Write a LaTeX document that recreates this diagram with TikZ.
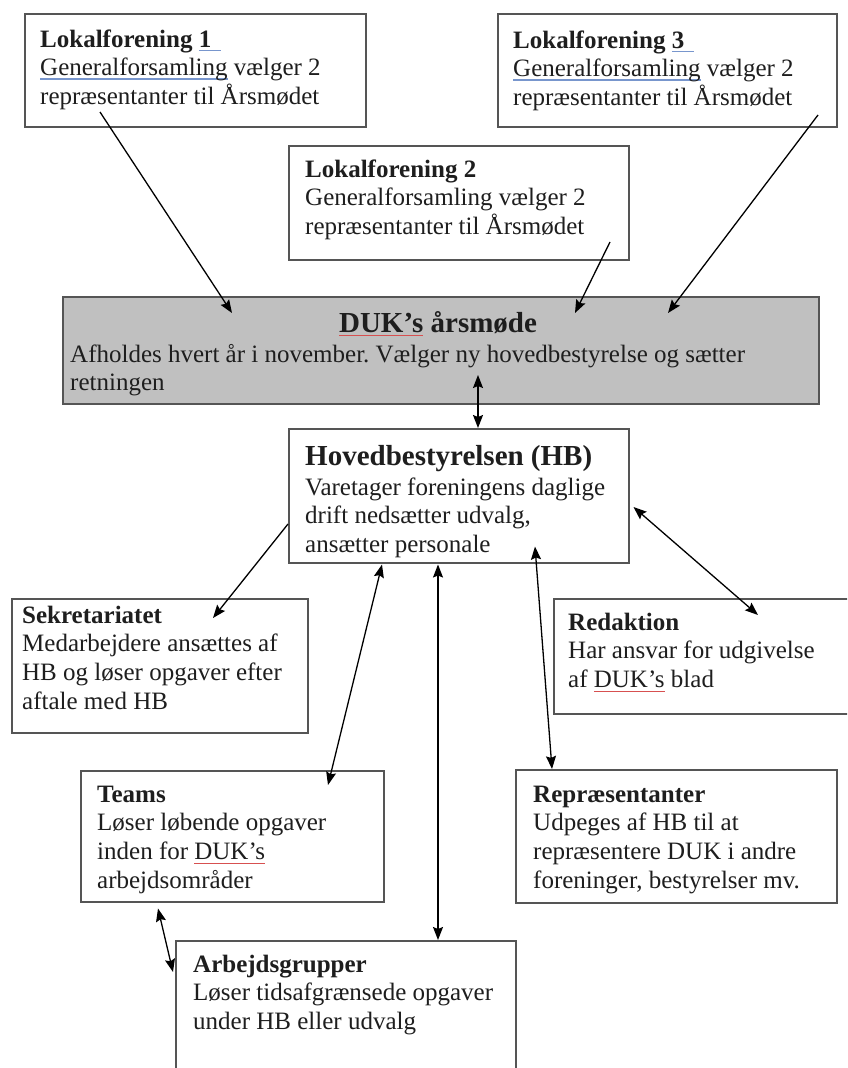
\documentclass[tikz,border=0pt]{standalone}
\usepackage{fontspec}
\setmainfont{Liberation Serif}
\usetikzlibrary{arrows.meta,calc}
\definecolor{boxline}{RGB}{85,85,85}
\definecolor{dukfill}{RGB}{192,192,192}
\definecolor{txtcol}{RGB}{30,30,30}
\definecolor{ulblue}{RGB}{120,150,205}
\definecolor{ulred}{RGB}{215,80,80}
\newsavebox\ulsave
\newcommand\blueul[1]{\sbox\ulsave{#1}\rlap{\textcolor{ulblue}{\rule[-4pt]{\wd\ulsave}{1.3pt}}}\usebox\ulsave}
\newcommand\redul[1]{\sbox\ulsave{#1}\rlap{\textcolor{ulred}{\rule[-4pt]{\wd\ulsave}{1pt}}}\usebox\ulsave}
\newcommand\txtstack[1]{\vtop{\baselineskip=28.75pt\lineskiplimit=-50pt #1}}
\frenchspacing
\tikzset{
  orgbox/.style={draw=boxline, line width=1.5pt, fill=white, rectangle, anchor=north west, inner sep=0pt},
  bodytext/.style={anchor=base west, inner sep=0pt, text=txtcol, font=\fontsize{25}{28.75}\selectfont},
  headtext/.style={inner sep=0pt, text=txtcol, font=\fontsize{29}{33}\selectfont\bfseries},
  link/.style={draw=black, line width=1.3pt, -{Stealth[length=13pt,width=10pt,inset=2pt]}},
  dlink/.style={draw=black, line width=1.3pt, {Stealth[length=13pt,width=10pt,inset=2pt]}-{Stealth[length=13pt,width=10pt,inset=2pt]}}
}
\begin{document}
\begin{tikzpicture}[x=1pt,y=-1pt]
\clip (0,0) rectangle (847,1068);
\fill[white] (0,0) rectangle (847,1068);

% boxes
\node[orgbox, minimum width=341pt, minimum height=113pt] (lf1) at (24,13) {};
\node[orgbox, minimum width=339pt, minimum height=113pt] (lf3) at (497,13) {};
\node[orgbox, minimum width=340pt, minimum height=114pt] (lf2) at (288,145) {};
\node[orgbox, fill=dukfill, minimum width=756pt, minimum height=107pt] (duk) at (62,296) {};
\node[orgbox, minimum width=340pt, minimum height=134pt] (hb) at (288,428) {};
\node[orgbox, minimum width=296pt, minimum height=134pt] (sek) at (11,598) {};
\node[orgbox, minimum width=310pt, minimum height=115pt] (red) at (553,598) {};
\node[orgbox, minimum width=303pt, minimum height=131pt] (teams) at (80,770) {};
\node[orgbox, minimum width=321pt, minimum height=133pt] (rep) at (515,769) {};
\node[orgbox, minimum width=340pt, minimum height=150pt] (arb) at (175,940) {};

% texts
\node[bodytext] (lf1t) at (40,47) {\txtstack{\hbox{\textbf{Lokalforening \blueul{1\hspace{10pt}}}}\hbox{\blueul{Generalforsamling} vælger 2}\hbox{repræsentanter til Årsmødet}}};
\node[bodytext] (lf3t) at (513,48) {\txtstack{\hbox{\textbf{Lokalforening \blueul{3\hspace{10pt}}}}\hbox{\blueul{Generalforsamling} vælger 2}\hbox{repræsentanter til Årsmødet}}};
\node[bodytext] (lf2t) at (305,177) {\txtstack{\hbox{\textbf{Lokalforening 2}}\hbox{Generalforsamling vælger 2}\hbox{repræsentanter til Årsmødet}}};
\node[headtext, anchor=base] (dukh) at (438,332) {\redul{DUK’s} årsmøde};
\node[bodytext] (dukb) at (70,362) {\txtstack{\hbox{Afholdes hvert år i november. Vælger ny hovedbestyrelse og sætter}\hbox{retningen}}};
\node[headtext, anchor=base west] (hbh) at (305,465) {Hovedbestyrelsen (HB)};
\node[bodytext] (hbb) at (305,495) {\txtstack{\hbox{Varetager foreningens daglige}\hbox{drift nedsætter udvalg,}\hbox{ansætter personale}}};
\node[bodytext] (sekt) at (22,623) {\txtstack{\hbox{\textbf{Sekretariatet}}\hbox{Medarbejdere ansættes af}\hbox{HB og løser opgaver efter}\hbox{aftale med HB}}};
\node[bodytext] (redt) at (568,630) {\txtstack{\hbox{\textbf{Redaktion}}\hbox{Har ansvar for udgivelse}\hbox{af \redul{DUK’s} blad}}};
\node[bodytext] (teamst) at (97,802) {\txtstack{\hbox{\textbf{Teams}}\hbox{Løser løbende opgaver}\hbox{inden for \redul{DUK’s}}\hbox{arbejdsområder}}};
\node[bodytext] (rept) at (533,802) {\txtstack{\hbox{\textbf{Repræsentanter}}\hbox{Udpeges af HB til at}\hbox{repræsentere DUK i andre}\hbox{foreninger, bestyrelser mv.}}};
\node[bodytext] (arbt) at (193,972) {\txtstack{\hbox{\textbf{Arbejdsgrupper}}\hbox{Løser tidsafgrænsede opgaver}\hbox{under HB eller udvalg}}};

% connector end points
\coordinate (lf1out) at ($(lf1.north west)+(76,99)$);
\coordinate (duk1) at ($(duk.north west)+(170,17)$);
\coordinate (lf2out) at ($(lf2.north west)+(322,97)$);
\coordinate (duk2) at ($(duk.north west)+(513,17)$);
\coordinate (lf3out) at ($(lf3.north west)+(321,102)$);
\coordinate (duk3) at ($(duk.north west)+(606,17)$);
\coordinate (dukhb) at ($(duk.north west)+(416,79)$);
\coordinate (hbtop) at ($(hb.north west)+(190,0)$);
\coordinate (hbsek) at ($(hb.north west)+(0,96)$);
\coordinate (sekin) at ($(sek.north west)+(202,20)$);
\coordinate (hbteams) at ($(hb.south west)+(94,1)$);
\coordinate (teamsin) at ($(teams.north west)+(248,15)$);
\coordinate (hbarb) at ($(hb.south west)+(150,1)$);
\coordinate (arbtop) at ($(arb.north west)+(263,0)$);
\coordinate (hbrep) at ($(hb.south west)+(247,-17)$);
\coordinate (reptop) at ($(rep.north west)+(37,0)$);
\coordinate (hbred) at ($(hb.north east)+(4,79)$);
\coordinate (redin) at ($(red.north west)+(205,17)$);
\coordinate (teamsarb) at ($(teams.south west)+(78,6)$);
\coordinate (arbleft) at ($(arb.north west)+(-2,32)$);

% connectors
\draw[link] (lf1out) -- (duk1);
\draw[link] (lf2out) -- (duk2);
\draw[link] (lf3out) -- (duk3);
\draw[dlink] (dukhb) -- (hbtop);
\draw[link] (hbsek) -- (sekin);
\draw[dlink] (hbteams) -- (teamsin);
\draw[dlink] (hbarb) -- (arbtop);
\draw[dlink] (hbrep) -- (reptop);
\draw[dlink] (hbred) -- (redin);
\draw[dlink] (teamsarb) -- (arbleft);
\end{tikzpicture}
\end{document}
